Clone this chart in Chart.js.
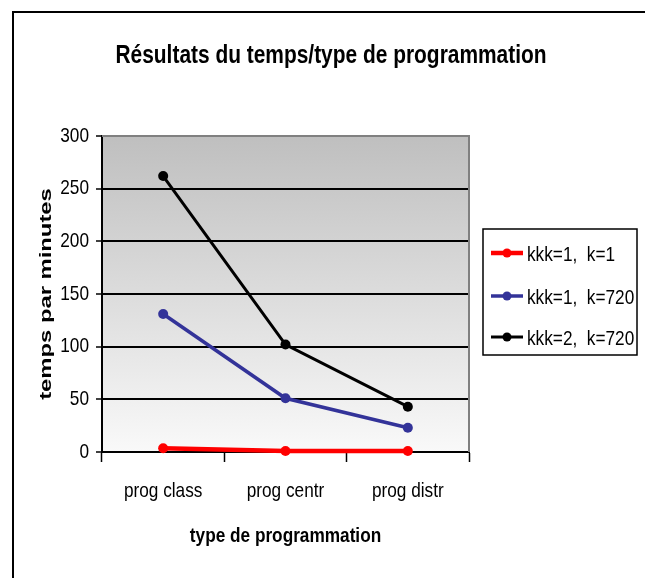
<!DOCTYPE html>
<html>
<head>
<meta charset="utf-8">
<title>Résultats du temps/type de programmation</title>
<script src="https://cdn.jsdelivr.net/npm/chart.js@4/dist/chart.umd.min.js"></script>
<style>
    html, body { margin: 0; padding: 0; background: #fff; }
    #wrap { width: 645px; height: 578px; position: relative; }
</style>
</head>
<body>
<div id="wrap"><canvas id="tempsChart" width="645" height="578"></canvas></div>
<script>
// categories and series
const categories = ['prog class', 'prog centr', 'prog distr'];
const seriesLabels = ['kkk=1,  k=1', 'kkk=1,  k=720', 'kkk=2,  k=720'];
const tempsKkk1K1 = [3.5, 1, 1];
const tempsKkk1K720 = [131, 51, 23];
const tempsKkk2K720 = [262, 102, 43];
const yMax = 300;
const yStep = 50;

const chartTitle = 'Résultats du temps/type de programmation';
const xTitle = 'type de programmation';
const yTitle = 'temps par minutes';

const FONT = "'Liberation Sans', Arial, sans-serif";
const SQUEEZE = 0.82;  // condensed look for all labels

// draws text squeezed horizontally around its anchor
function drawText(ctx, text, x, y, font, align, baseline, sx) {
    ctx.save();
    ctx.translate(x, y);
    ctx.scale(sx, 1);
    ctx.font = font;
    ctx.textAlign = align;
    ctx.textBaseline = baseline;
    ctx.fillStyle = '#000';
    ctx.fillText(text, 0, 0);
    ctx.restore();
}

// frame, plot background, titles, tick labels and legend
const decorPlugin = {
    id: 'decor',
    beforeDraw(chart) {
        const { ctx, chartArea: a } = chart;
        ctx.save();
        const grad = ctx.createLinearGradient(0, a.top, 0, a.bottom);
        grad.addColorStop(0, '#bfbfbf');
        grad.addColorStop(1, '#f9f9f9');
        ctx.fillStyle = grad;
        ctx.fillRect(a.left, a.top, a.right - a.left, a.bottom - a.top);
        ctx.restore();
    },
    beforeDatasetsDraw(chart) {
        const { ctx, chartArea: a } = chart;
        ctx.save();
        ctx.strokeStyle = '#808080';
        ctx.lineWidth = 2;
        ctx.beginPath();
        ctx.moveTo(a.left, a.top);
        ctx.lineTo(a.right, a.top);
        ctx.lineTo(a.right, a.bottom);
        ctx.stroke();
        ctx.restore();
    },
    afterDraw(chart) {
        const { ctx } = chart;
        const xs = chart.scales.x;
        const ys = chart.scales.y;
        ctx.save();

        // outer frame
        ctx.strokeStyle = '#000';
        ctx.lineWidth = 2;
        ctx.strokeRect(13, 12, 700, 700);

        drawText(ctx, chartTitle, 331, 63, 'bold 25.5px ' + FONT, 'center', 'alphabetic', SQUEEZE);

        // tick labels from the scales
        ys.ticks.forEach((t, i) => {
            drawText(ctx, t.label, 89, ys.getPixelForTick(i), '21px ' + FONT, 'right', 'middle', SQUEEZE);
        });
        xs.ticks.forEach((t, i) => {
            drawText(ctx, t.label, xs.getPixelForTick(i), 497, '21px ' + FONT, 'center', 'alphabetic', SQUEEZE);
        });

        drawText(ctx, xTitle, (xs.left + xs.right) / 2, 542, 'bold 21px ' + FONT, 'center', 'alphabetic', SQUEEZE);

        // y axis title, stretched
        ctx.save();
        ctx.translate(51, (ys.top + ys.bottom) / 2);
        ctx.rotate(-Math.PI / 2);
        ctx.scale(1.4, 1);
        ctx.font = 'bold 17px ' + FONT;
        ctx.textAlign = 'center';
        ctx.textBaseline = 'alphabetic';
        ctx.fillStyle = '#000';
        ctx.fillText(yTitle, 0, 0);
        ctx.restore();

        // legend box
        ctx.strokeStyle = '#000';
        ctx.lineWidth = 1.5;
        ctx.strokeRect(483, 229, 154, 126);
        const rows = [253, 296, 337];
        chart.data.datasets.forEach((ds, i) => {
            const y = rows[i];
            ctx.strokeStyle = ds.borderColor;
            ctx.lineWidth = ds.borderWidth;
            ctx.beginPath();
            ctx.moveTo(491, y);
            ctx.lineTo(523, y);
            ctx.stroke();
            ctx.fillStyle = ds.borderColor;
            ctx.beginPath();
            ctx.arc(507, y, 4.5, 0, Math.PI * 2);
            ctx.fill();
            drawText(ctx, ds.label, 527, y + 8, '21px ' + FONT, 'left', 'alphabetic', SQUEEZE);
        });
        ctx.restore();
    }
};

function makeSeries(label, data, color, width) {
    return {
        label: label,
        data: data,
        borderColor: color,
        backgroundColor: color,
        borderWidth: width,
        pointRadius: 5,
        pointBackgroundColor: color,
        pointBorderColor: color,
        pointBorderWidth: 0,
        tension: 0,
        clip: false
    };
}

const ctx = document.getElementById('tempsChart').getContext('2d');
new Chart(ctx, {
    type: 'line',
    data: {
        labels: categories,
        datasets: [
            makeSeries(seriesLabels[0], tempsKkk1K1, '#ff0000', 4.5),
            makeSeries(seriesLabels[1], tempsKkk1K720, '#333399', 3.5),
            makeSeries(seriesLabels[2], tempsKkk2K720, '#000000', 3)
        ]
    },
    options: {
        responsive: false,
        animation: false,
        layout: {
            padding: { left: 0, right: 176, top: 136, bottom: 0 }
        },
        plugins: {
            legend: { display: false },
            title: { display: false },
            tooltip: { enabled: false }
        },
        scales: {
            x: {
                offset: true,
                grid: {
                    offset: true,
                    drawOnChartArea: false,
                    drawTicks: true,
                    tickLength: 10,
                    tickWidth: 1.5,
                    tickColor: '#000'
                },
                border: { color: '#000', width: 2 },
                ticks: { display: false },
                afterFit(scale) {
                    scale.height = 126;
                }
            },
            y: {
                min: 0,
                max: yMax,
                grid: {
                    color: (c) => c.tick && c.tick.value === yMax ? 'rgba(0,0,0,0)' : '#000',
                    lineWidth: 2,
                    drawTicks: true,
                    tickLength: 6,
                    tickWidth: 1.5,
                    tickColor: '#000'
                },
                border: { color: '#000', width: 2 },
                ticks: { stepSize: yStep, display: false },
                afterFit(scale) {
                    scale.width = 102;
                }
            }
        }
    },
    plugins: [decorPlugin]
});
</script>
</body>
</html>
